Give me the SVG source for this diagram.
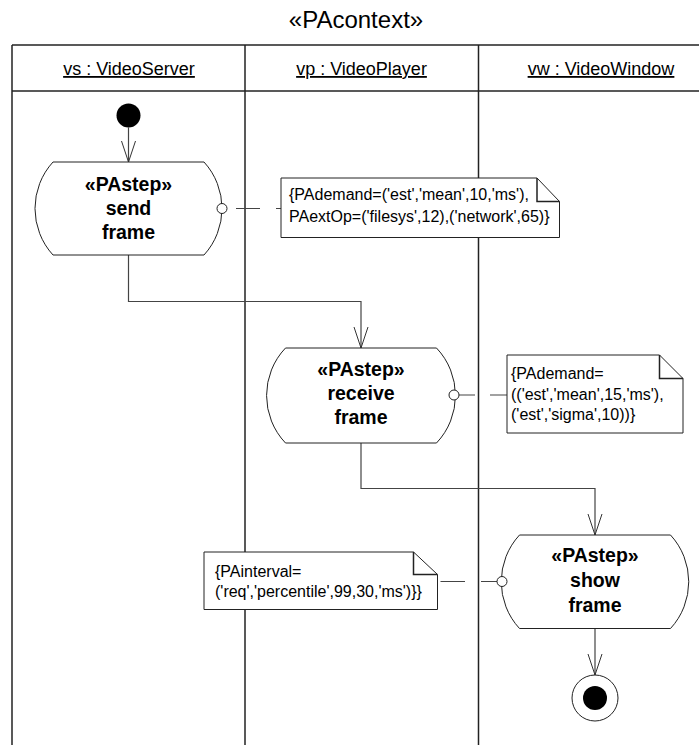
<svg xmlns="http://www.w3.org/2000/svg" width="699" height="745" viewBox="0 0 699 745">
<style>
  .title{font-family:"Liberation Sans",Arial,sans-serif;font-size:24px;fill:#000;text-anchor:middle}
  .hdr{font-family:"Liberation Sans",Arial,sans-serif;font-size:18px;fill:#000;text-anchor:middle;text-decoration:underline}
  .lane{stroke:#222;stroke-width:1.5;fill:none}
  .node{fill:#fff;stroke:#222;stroke-width:1}
  .ntxt{font-family:"Liberation Sans",Arial,sans-serif;font-size:19.5px;font-weight:bold;fill:#000;text-anchor:middle}
  .note{fill:#fff;stroke:#222;stroke-width:1}
  .ntext{font-family:"Liberation Sans",Arial,sans-serif;font-size:16px;fill:#000}
  .edge{stroke:#444;stroke-width:1.2;fill:none}
  .pin{fill:#fff;stroke:#222;stroke-width:1}
</style>
<defs>
  <marker id="arr" viewBox="-23 -9 25 18" markerWidth="25" markerHeight="18" refX="0" refY="0" markerUnits="userSpaceOnUse" orient="auto">
    <path d="M-21,-7 L0,0 L-21,7" fill="none" stroke="#333" stroke-width="1"/>
  </marker>
</defs>

<text class="title" x="356" y="28">«PAcontext»</text>

<g id="swimlanes">
  <line class="lane" x1="12" y1="45" x2="699" y2="45"/>
  <line class="lane" x1="12" y1="91" x2="699" y2="91"/>
  <line class="lane" x1="12" y1="45" x2="12" y2="745" stroke="#666"/>
  <line class="lane" x1="245" y1="45" x2="245" y2="745"/>
  <line class="lane" x1="478.5" y1="45" x2="478.5" y2="745"/>
  <text class="hdr" x="129" y="75">vs : VideoServer</text>
  <text class="hdr" x="361.5" y="75">vp : VideoPlayer</text>
  <text class="hdr" x="601" y="75">vw : VideoWindow</text>
</g>

<g id="connectors">
  <path class="edge" d="M128.5,127.5 L128.5,162" marker-end="url(#arr)"/>
  <path class="edge" d="M128.5,255 L128.5,301.5 L361,301.5 L361,348" marker-end="url(#arr)"/>
  <path class="edge" d="M361,443 L361,488.5 L595,488.5 L595,535" marker-end="url(#arr)"/>
  <path class="edge" d="M595,628 L595,675" marker-end="url(#arr)"/>
  <path class="edge" d="M236,208.5 L260,208.5 M276,208.5 L281,208.5"/>
  <path class="edge" d="M459,395 L475,395 M490,395 L507,395"/>
  <path class="edge" d="M440.5,581.5 L465,581.5 M481,581.5 L497,581.5"/>
</g>

<g id="start">
  <circle cx="128.5" cy="115.5" r="12" fill="#000"/>
</g>

<g id="sendFrame">
  <path class="node" d="M53,162 L204,162 A69,69 0 0 1 204,255 L53,255 A69,69 0 0 1 53,162 Z"/>
  <text class="ntxt" x="128.5" y="191">«PAstep»</text>
  <text class="ntxt" x="128.5" y="215">send</text>
  <text class="ntxt" x="128.5" y="239">frame</text>
  <circle class="pin" cx="222" cy="208.5" r="5"/>
</g>

<g id="note1">
  <path class="note" d="M281,178 L537,178 L559.5,201.5 L559.5,237.5 L281,237.5 Z"/>
  <path d="M537,178 L537,201.5 L559.5,201.5" fill="none" stroke="#222" stroke-width="1.5"/>
  <text class="ntext" x="289" y="200">{PAdemand=('est','mean',10,'ms'),</text>
  <text class="ntext" x="289" y="221.5">PAextOp=('filesys',12),('network',65)}</text>
</g>

<g id="receiveFrame">
  <path class="node" d="M285.5,348 L436.5,348 A69,69 0 0 1 436.5,443 L285.5,443 A69,69 0 0 1 285.5,348 Z"/>
  <text class="ntxt" x="361" y="376">«PAstep»</text>
  <text class="ntxt" x="361" y="400">receive</text>
  <text class="ntxt" x="361" y="424">frame</text>
  <circle class="pin" cx="454" cy="395" r="5"/>
</g>

<g id="note2">
  <path class="note" d="M507,355 L659.5,355 L683,378.5 L683,433 L507,433 Z"/>
  <path d="M659.5,355 L659.5,378.5 L683,378.5" fill="none" stroke="#222" stroke-width="1.5"/>
  <text class="ntext" x="511" y="379">{PAdemand=</text>
  <text class="ntext" x="511" y="399.5">(('est','mean',15,'ms'),</text>
  <text class="ntext" x="511" y="420">('est','sigma',10))}</text>
</g>

<g id="showFrame">
  <path class="node" d="M519.5,535 L670.5,535 A69,69 0 0 1 670.5,628.5 L519.5,628.5 A69,69 0 0 1 519.5,535 Z"/>
  <text class="ntxt" x="595" y="562">«PAstep»</text>
  <text class="ntxt" x="595" y="587">show</text>
  <text class="ntxt" x="595" y="612">frame</text>
  <circle class="pin" cx="502" cy="581.5" r="5"/>
</g>

<g id="note3">
  <path class="note" d="M204,552 L413.5,552 L437.5,574.5 L437.5,609.5 L204,609.5 Z"/>
  <path d="M413.5,552 L413.5,574.5 L437.5,574.5" fill="none" stroke="#222" stroke-width="1.5"/>
  <text class="ntext" x="215" y="577">{PAinterval=</text>
  <text class="ntext" x="215" y="597">('req','percentile',99,30,'ms')}}</text>
</g>

<g id="final">
  <circle cx="595" cy="698" r="23" fill="#fff" stroke="#222" stroke-width="1"/>
  <circle cx="595" cy="698" r="12" fill="#000"/>
</g>
</svg>
